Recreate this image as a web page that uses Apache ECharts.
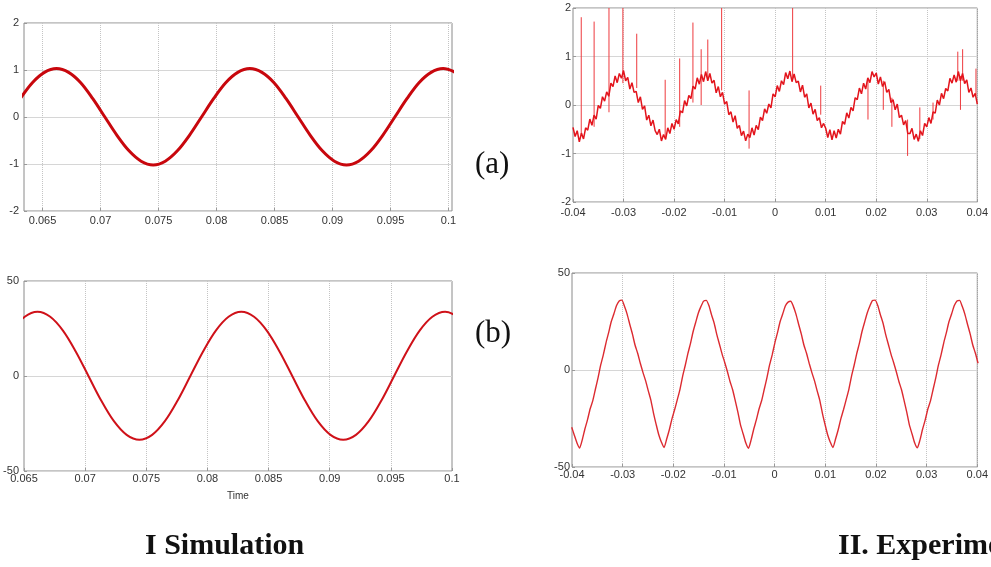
<!DOCTYPE html>
<html>
<head>
<meta charset="utf-8">
<script src="https://cdn.jsdelivr.net/npm/echarts@6/dist/echarts.min.js"></script>
<style>
html,body{margin:0;padding:0;background:#fff;}
#chart{width:991px;height:567px;}
</style>
</head>
<body>
<div id="chart"></div>
<script>
// ---------- Data ----------
// I Simulation (a): voltage, sampled from 0.06308 s every 1/960 s
const simVoltageStart = 0.06308;
const simVoltageStep = 0.0166667 / 16;
const simVoltage = [0.39,0.73,0.95,1.03,0.95,0.73,0.39,0.00,-0.39,-0.72,-0.94,-1.02,-0.94,-0.72,-0.39,0.00,0.39,0.73,0.95,1.03,0.95,0.73,0.39,0.00,-0.39,-0.72,-0.94,-1.02,-0.94,-0.72,-0.39,0.00,0.39,0.73,0.95,1.03,0.95];
// I Simulation (b): current, sampled from 0.06402 s every 1/960 s
const simCurrentStart = 0.06402;
const simCurrentStep = 0.0166667 / 16;
const simCurrent = [23.9,31.2,33.8,31.2,23.9,12.9,0.0,-12.9,-23.8,-31.0,-33.6,-31.0,-23.8,-12.9,0.0,12.9,23.9,31.2,33.8,31.2,23.9,12.9,0.0,-12.9,-23.8,-31.0,-33.6,-31.0,-23.8,-12.9,0.0,12.9,23.9,31.2,33.8,31.2];

// II Experimental (a): noisy voltage, sampled from -0.04 s every 1/2400 s
const expVoltageStart = -0.04;
const expVoltageStep = 0.0166667 / 40;
const expVoltage = [
-0.46,-0.65,-0.53,-0.76,-0.58,-0.70,-0.47,-0.52,-0.29,-0.42,-0.21,-0.29,-0.01,-0.07,0.17,0.08,0.27,0.18,0.45,0.38,0.60,0.46,0.65,0.55,0.71,0.50,0.57,0.33,0.46,0.26,0.28,0.05,0.17,-0.09,-0.02,-0.31,-0.21,-0.43,-0.31,-0.53,
-0.61,-0.50,-0.74,-0.61,-0.71,-0.47,-0.59,-0.38,-0.50,-0.30,-0.39,-0.12,-0.16,0.09,-0.02,0.20,0.13,0.39,0.33,0.56,0.43,0.63,0.48,0.69,0.50,0.65,0.45,0.51,0.25,0.38,0.17,0.26,0.02,0.07,-0.20,-0.14,-0.35,-0.22,-0.48,-0.42,
-0.63,-0.54,-0.74,-0.60,-0.67,-0.47,-0.62,-0.42,-0.51,-0.25,-0.32,-0.08,-0.17,0.02,-0.06,0.23,0.17,0.40,0.28,0.50,0.42,0.67,0.54,0.70,0.48,0.64,0.46,0.49,0.27,0.41,0.16,0.23,-0.06,0.04,-0.19,-0.09,-0.32,-0.26,-0.47,-0.38,
-0.48,-0.67,-0.51,-0.72,-0.53,-0.68,-0.50,-0.60,-0.34,-0.40,-0.16,-0.27,-0.05,-0.12,0.15,0.11,0.35,0.23,0.45,0.33,0.56,0.46,0.69,0.58,0.66,0.43,0.58,0.38,0.48,0.26,0.32,0.05,0.11,-0.10,0.02,-0.26,-0.21,-0.41,-0.32,-0.59,
-0.59,-0.48,-0.71,-0.60,-0.75,-0.53,-0.63,-0.38,-0.45,-0.26,-0.38,-0.14,-0.17,0.10,0.00,0.24,0.13,0.34,0.29,0.55,0.45,0.62,0.47,0.69,0.50,0.65,0.44,0.52,0.26,0.35,0.16,0.24,0.02
];
// spikes on the experimental voltage: [time, from, to]
const expSpikes = [
[-0.03837,-0.62,1.81],[-0.03582,-0.45,1.72],[-0.03288,-0.15,2.0],[-0.03013,0.45,2.0],
[-0.02739,0.35,1.47],[-0.02176,-0.68,0.52],[-0.01889,-0.45,0.96],[-0.01627,0.05,1.70],
[-0.01464,0.0,1.15],[-0.01333,0.55,1.35],[-0.01059,0.30,2.0],[-0.00516,-0.90,0.30],
[0.00346,0.55,2.0],[0.00902,-0.20,0.40],[0.01837,-0.30,0.50],[0.02140,-0.10,0.50],
[0.02310,-0.45,0.15],[0.02621,-1.05,-0.30],[0.02863,-0.70,-0.05],[0.03124,-0.30,0.05],
[0.03614,0.50,1.10],[0.03667,-0.10,0.60],[0.03710,0.50,1.15],[0.03974,0.20,0.75]
];

// II Experimental (b): current, sampled from -0.04006 s every 1/1920 s
const expCurrentStart = -0.04006;
const expCurrentStep = 0.0166667 / 32;
const expCurrent = [
-29.5,-33.6,-37.6,
-40.2,-36.0,-30.4,-25.6,-20.0,-15.8,-9.8,-3.9,2.6,7.9,14.0,19.3,25.0,29.0,33.2,35.6,36.0,32.8,28.8,23.6,18.6,12.9,8.6,3.5,-1.2,-5.5,-10.6,-15.5,-22.2,-28.0,-33.4,-37.2,
-40.0,-35.6,-30.8,-25.2,-20.5,-15.4,-10.2,-3.5,2.2,8.3,13.6,19.7,24.6,29.4,32.8,35.5,35.9,33.2,28.4,24.1,18.2,13.3,8.2,3.9,-0.8,-5.9,-10.2,-15.9,-21.8,-28.4,-33.0,-37.6,
-40.3,-36.0,-30.4,-25.6,-20.1,-15.7,-9.8,-3.9,2.6,7.9,14.0,19.3,25.0,29.0,33.1,35.0,35.4,32.8,28.8,23.6,18.6,12.9,8.6,3.5,-1.2,-5.5,-10.6,-15.5,-22.2,-28.0,-33.4,-37.2,
-40.0,-35.6,-30.8,-25.2,-20.5,-15.4,-10.2,-3.5,2.2,8.3,13.6,19.7,24.6,29.4,33.0,35.8,36.0,33.2,28.4,24.1,18.2,13.3,8.2,3.9,-0.8,-5.9,-10.2,-15.9,-21.8,-28.4,-33.0,-37.6,
-40.1,-36.0,-30.4,-25.6,-20.0,-15.8,-9.8,-3.9,2.6,7.9,14.0,19.3,25.0,29.0,33.2,35.6,35.9,32.8,28.8,23.6,18.6,12.9,8.6,3.5
];

// tick labels
const simTicksX = [0.065,0.07,0.075,0.08,0.085,0.09,0.095,0.1];
const expTicksX = [-0.04,-0.03,-0.02,-0.01,0,0.01,0.02,0.03,0.04];
const voltTicksY = [-2,-1,0,1,2];
const currTicksY = [-50,0,50];

// ---------- Chart ----------
const stepped = (start, step, ys) => ys.map((v, i) => [start + i * step, v]);
const spikeLine = sp => sp.flatMap(s => [[s[0], s[1]], [s[0], s[2]], [s[0], '-']]);
const fmt = v => String(+(+v).toFixed(4));
const FONT = 'Liberation Sans';

function xAxis(grid, min, max, ticks, margin, extra) {
  return Object.assign({
    type: 'value', gridIndex: grid, min: min, max: max, position: 'bottom',
    axisLine: { show: false, onZero: false },
    axisTick: { show: true, inside: true, length: 3, lineStyle: { color: '#999' }, customValues: ticks },
    axisLabel: { customValues: ticks, formatter: fmt, color: '#333', fontSize: 11, fontFamily: FONT, margin: margin },
    splitLine: { show: true, lineStyle: { color: '#c4c4c4', type: 'dotted', width: 1 } }
  }, extra || {});
}
function yAxis(grid, min, max, ticks, margin) {
  return {
    type: 'value', gridIndex: grid, min: min, max: max, position: 'left',
    axisLine: { show: false, onZero: false },
    axisTick: { show: true, inside: true, length: 3, lineStyle: { color: '#999' }, customValues: ticks },
    axisLabel: { customValues: ticks, formatter: fmt, color: '#333', fontSize: 11, fontFamily: FONT, margin: margin },
    splitLine: { show: true, lineStyle: { color: '#d6d6d6', type: 'solid', width: 1 } }
  };
}
const gridStyle = { show: true, borderColor: '#8a8a8a', borderWidth: 1, backgroundColor: 'transparent' };

const chart = echarts.init(document.getElementById('chart'), null, { renderer: 'canvas' });
chart.setOption({
  animation: false,
  backgroundColor: '#fff',
  grid: [
    Object.assign({ left: 24, top: 23, width: 428, height: 188 }, gridStyle),
    Object.assign({ left: 24, top: 281, width: 428, height: 190 }, gridStyle),
    Object.assign({ left: 573, top: 8, width: 409, height: 194 }, gridStyle),
    Object.assign({ left: 572, top: 273, width: 410, height: 194 }, gridStyle)
  ],
  xAxis: [
    xAxis(0, 0.0634, 0.1003, simTicksX, 4),
    xAxis(1, 0.065, 0.1, simTicksX, 2, { name: 'Time', nameLocation: 'middle', nameGap: 20, nameTextStyle: { fontSize: 10, fontFamily: FONT, color: '#333' } }),
    xAxis(2, -0.04, 0.04, expTicksX, 5),
    xAxis(3, -0.04, 0.04, expTicksX, 2)
  ],
  yAxis: [
    yAxis(0, -2, 2, voltTicksY, 5),
    yAxis(1, -50, 50, currTicksY, 5),
    yAxis(2, -2, 2, voltTicksY, 2),
    yAxis(3, -50, 50, currTicksY, 2)
  ],
  series: [
    { type: 'line', xAxisIndex: 0, yAxisIndex: 0, data: stepped(simVoltageStart, simVoltageStep, simVoltage), smooth: 0.35, symbol: 'none',
      lineStyle: { color: '#c8070d', width: 3 }, clip: true },
    { type: 'line', xAxisIndex: 1, yAxisIndex: 1, data: stepped(simCurrentStart, simCurrentStep, simCurrent), smooth: 0.35, symbol: 'none',
      lineStyle: { color: '#cf1119', width: 2 }, clip: true },
    { type: 'line', xAxisIndex: 2, yAxisIndex: 2, data: spikeLine(expSpikes), symbol: 'none', connectNulls: false,
      lineStyle: { color: '#ee3a3e', width: 1 }, clip: true },
    { type: 'line', xAxisIndex: 2, yAxisIndex: 2, data: stepped(expVoltageStart, expVoltageStep, expVoltage), symbol: 'none',
      sampling: null, lineStyle: { color: '#e3141c', width: 1.5 }, clip: true },
    { type: 'line', xAxisIndex: 3, yAxisIndex: 3, data: stepped(expCurrentStart, expCurrentStep, expCurrent), symbol: 'none',
      smooth: 0.2, lineStyle: { color: '#dc2a30', width: 1.4 }, clip: true }
  ],
  graphic: [
    { type: 'text', x: 475, y: 165, style: { text: '(a)', fontSize: 31, fontFamily: 'Liberation Serif', fill: '#111', verticalAlign: 'middle' } },
    { type: 'text', x: 475, y: 334, style: { text: '(b)', fontSize: 31, fontFamily: 'Liberation Serif', fill: '#111', verticalAlign: 'middle' } },
    { type: 'text', x: 145, y: 546, style: { text: 'I Simulation', fontSize: 30, fontWeight: 'bold', fontFamily: 'Liberation Serif', fill: '#111', verticalAlign: 'middle' } },
    { type: 'text', x: 838, y: 546, style: { text: 'II. Experimental', fontSize: 30, fontWeight: 'bold', fontFamily: 'Liberation Serif', fill: '#111', verticalAlign: 'middle' } }
  ]
});
</script>
</body>
</html>
